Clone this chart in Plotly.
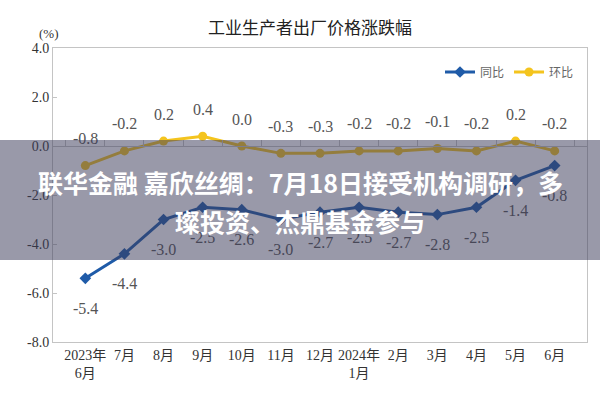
import plotly.graph_objects as go

categories = ["2023年<br>6月", "7月", "8月", "9月", "10月", "11月", "12月",
              "2024年<br>1月", "2月", "3月", "4月", "5月", "6月"]
yoy = [-5.4, -4.4, -3.0, -2.5, -2.6, -3.0, -2.7, -2.5, -2.7, -2.8, -2.5, -1.4, -0.8]
mom = [-0.8, -0.2, 0.2, 0.4, 0.0, -0.3, -0.3, -0.2, -0.2, -0.1, -0.2, 0.2, -0.2]
ytick_vals = [-8, -6, -4, -2, 0, 2, 4]
ytick_text = ["-8.0", "-6.0", "-4.0", "-2.0", "0.0", "2.0", "4.0"]

title_text = "工业生产者出厂价格涨跌幅"
banner_line1 = "联华金融 嘉欣丝绸：7月18日接受机构调研，多"
banner_line2 = "璨投资、杰鼎基金参与"

BLUE = "#1f5ba8"
YELLOW = "#f4c41e"
SERIF = "Liberation Serif, Noto Sans CJK SC, serif"
CJK = "Noto Sans CJK SC, sans-serif"

W, H = 600, 400
ML, MR, MT, MB = 53, 13, 48, 58
pw, ph = W - ML - MR, H - MT - MB


def px_x(x):
    return (x - ML) / pw


def px_y(y):
    return (H - MB - y) / ph


fig = go.Figure()
fig.add_trace(go.Scatter(
    x=categories, y=yoy, name="同比", mode="lines+markers",
    line=dict(color=BLUE, width=3),
    marker=dict(symbol="diamond", size=9, color=BLUE),
))
fig.add_trace(go.Scatter(
    x=categories, y=mom, name="环比", mode="lines+markers",
    line=dict(color=YELLOW, width=3),
    marker=dict(symbol="circle", size=9, color=YELLOW),
))
# invisible trace to host the zero-crossing category axis
fig.add_trace(go.Scatter(
    x=categories, y=mom, xaxis="x2", mode="lines", showlegend=False,
    line=dict(width=0), opacity=0, hoverinfo="skip",
))

annotations = []
for c, v in zip(categories, yoy):
    annotations.append(dict(
        x=c, y=v, xref="x", yref="y", text=f"{v:.1f}", showarrow=False,
        yshift=-30, font=dict(family=SERIF, size=16, color="#555555"),
    ))
for c, v in zip(categories, mom):
    annotations.append(dict(
        x=c, y=v, xref="x", yref="y", text=f"{v:.1f}", showarrow=False,
        yshift=27, font=dict(family=SERIF, size=16, color="#555555"),
    ))

annotations.append(dict(
    x=px_x(37), y=px_y(24), xref="paper", yref="paper", text="(%)",
    showarrow=False, font=dict(family=SERIF, size=13, color="#333333"),
))

# banner overlay
annotations.append(dict(
    x=px_x(300), y=px_y(200), xref="paper", yref="paper", text=" ",
    showarrow=False, width=620, height=120, bgcolor="rgba(60,60,90,0.52)",
    borderpad=0, borderwidth=0, xanchor="center", yanchor="middle",
))
annotations.append(dict(
    x=px_x(300), y=px_y(182), xref="paper", yref="paper", text=banner_line1,
    showarrow=False, xanchor="center", yanchor="middle",
    font=dict(family=CJK, size=25, color="white", weight="bold"),
))
annotations.append(dict(
    x=px_x(300), y=px_y(221), xref="paper", yref="paper", text=banner_line2,
    showarrow=False, xanchor="center", yanchor="middle",
    font=dict(family=CJK, size=25, color="white", weight="bold"),
))

fig.update_layout(
    width=W, height=H,
    margin=dict(l=ML, r=MR, t=MT, b=MB),
    paper_bgcolor="white", plot_bgcolor="white",
    title=dict(text=title_text, x=310 / W, xanchor="center", y=1 - 28 / H,
               yanchor="middle", font=dict(family=CJK, size=17, color="#222222")),
    xaxis=dict(
        type="category", showgrid=False, zeroline=False,
        showline=True, linecolor="#c4c4c4", linewidth=1, mirror=True,
        ticks="", tickfont=dict(family=SERIF, size=14, color="#333333"),
    ),
    xaxis2=dict(
        type="category", overlaying="x", matches="x", anchor="free",
        position=8 / 12, side="top", showgrid=False, zeroline=False,
        showline=True, linecolor="#c4c4c4", linewidth=1,
        ticks="outside", ticklen=6, tickcolor="#c4c4c4", tickson="boundaries",
        showticklabels=False,
    ),
    yaxis=dict(
        range=[-8, 4], tickvals=ytick_vals, ticktext=ytick_text,
        showgrid=False, zeroline=False,
        showline=True, linecolor="#c4c4c4", linewidth=1, mirror=True,
        ticks="inside", ticklen=4, tickcolor="#c4c4c4",
        tickfont=dict(family=SERIF, size=14, color="#333333"),
    ),
    legend=dict(
        orientation="h", x=px_x(440), y=px_y(72), xanchor="left", yanchor="middle",
        font=dict(family=CJK, size=12, color="#666666"),
        bgcolor="rgba(0,0,0,0)", itemwidth=30, tracegroupgap=0,
    ),
    annotations=annotations,
)

fig.write_html("out.html", config={"displayModeBar": False},
               post_script="document.body.style.margin='0px';")
